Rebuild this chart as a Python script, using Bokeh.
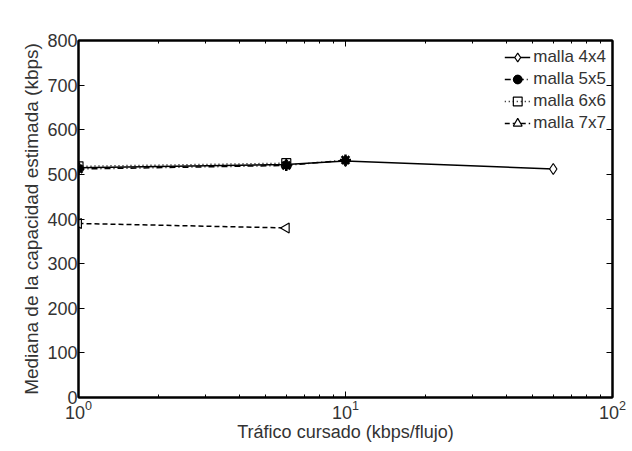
import numpy as np
from bokeh.plotting import figure
from bokeh.models import LinearAxis, LogAxis, FixedTicker, LogTicker, Range1d
from bokeh.embed import file_html
from bokeh.resources import INLINE

# Data
x_4x4 = [1, 6, 10, 60]
y_4x4 = [515, 522, 530, 512]
x_5x5 = [1, 6, 10]
y_5x5 = [512, 520, 532]
x_6x6 = [1, 6]
y_6x6 = [518, 525]
x_7x7 = [1, 6]
y_7x7 = [390, 380]
y_ticks = [0, 100, 200, 300, 400, 500, 600, 700, 800]

FONT = "Liberation Sans"

p = figure(width=632, height=451, x_axis_type="log",
           x_range=Range1d(1, 100), y_range=Range1d(0, 800),
           output_backend="svg", toolbar_location=None,
           min_border_left=78, min_border_right=20,
           min_border_top=40, min_border_bottom=54)
p.background_fill_color = "white"
p.border_fill_color = "white"
p.outline_line_color = "black"
p.outline_line_width = 2
p.xgrid.visible = False
p.ygrid.visible = False

# series
p.line(x_4x4, y_4x4, line_color="black", line_width=1.5, legend_label="malla 4x4")
p.scatter(x_4x4, y_4x4, marker="diamond", size=11, fill_color="white",
          line_color="black", line_width=1.2, legend_label="malla 4x4")

p.line(x_5x5, y_5x5, line_color="black", line_width=1.5, line_dash="6 3 1 3",
       legend_label="malla 5x5")
p.scatter(x_5x5, y_5x5, marker="asterisk", size=11, line_color="black",
          line_width=2.5, legend_label="malla 5x5")
p.scatter(x_5x5, y_5x5, marker="circle", size=7, fill_color="black",
          line_color="black", legend_label="malla 5x5")

p.line(x_6x6, y_6x6, line_color="black", line_width=1.5, line_dash="1 3",
       legend_label="malla 6x6")
p.scatter(x_6x6, y_6x6, marker="square", size=9, fill_color=None,
          line_color="black", line_width=1.2, legend_label="malla 6x6")

p.line(x_7x7, y_7x7, line_color="black", line_width=1.5, line_dash="5 3",
       legend_label="malla 7x7")
p.scatter(x_7x7, y_7x7, marker="triangle", angle=np.pi / 2, size=10,
          fill_color="white", line_color="black", line_width=1.2,
          legend_label="malla 7x7")

# axes styling
for ax in (p.xaxis[0], p.yaxis[0]):
    ax.major_label_text_font = FONT
    ax.major_label_text_font_size = "18px"
    ax.major_label_text_color = "#333333"
    ax.axis_label_text_font = FONT
    ax.axis_label_text_font_style = "normal"
    ax.axis_label_text_color = "#333333"
    ax.major_tick_in = 6
    ax.major_tick_out = 0
    ax.minor_tick_in = 3
    ax.minor_tick_out = 0
    ax.axis_line_width = 2

p.yaxis[0].ticker = FixedTicker(ticks=y_ticks)
p.yaxis[0].minor_tick_line_color = None
p.yaxis[0].axis_label = "Mediana de la capacidad estimada (kbps)"
p.yaxis[0].axis_label_text_font_size = "19px"
p.yaxis[0].axis_label_standoff = 2
p.yaxis[0].major_label_standoff = 1

p.xaxis[0].ticker = LogTicker(num_minor_ticks=10)
p.xaxis[0].axis_label = "Tráfico cursado (kbps/flujo)"
p.xaxis[0].axis_label_text_font_size = "18px"
p.xaxis[0].axis_label_standoff = 0
p.xaxis[0].major_label_standoff = 2

# mirrored axes (box)
ra = LinearAxis(ticker=FixedTicker(ticks=y_ticks), major_label_text_font_size="0px",
                major_tick_in=6, major_tick_out=0, minor_tick_line_color=None,
                axis_line_width=2)
ra.major_label_text_color = None
p.add_layout(ra, "right")
ta = LogAxis(ticker=LogTicker(num_minor_ticks=10), major_label_text_font_size="0px",
             major_tick_in=6, major_tick_out=0, minor_tick_in=3, minor_tick_out=0,
             axis_line_width=2)
ta.major_label_text_color = None
p.add_layout(ta, "above")

# legend
lg = p.legend[0]
lg.location = "top_right"
lg.label_text_font = FONT
lg.label_text_font_size = "17px"
lg.label_text_color = "#333333"
lg.border_line_color = None
lg.background_fill_alpha = 0.0
lg.spacing = 0
lg.padding = 4
lg.margin = 6
lg.glyph_width = 26
lg.label_standoff = 3
lg.label_height = 22
lg.glyph_height = 22

open("out.html", "w").write(file_html(p, INLINE))
